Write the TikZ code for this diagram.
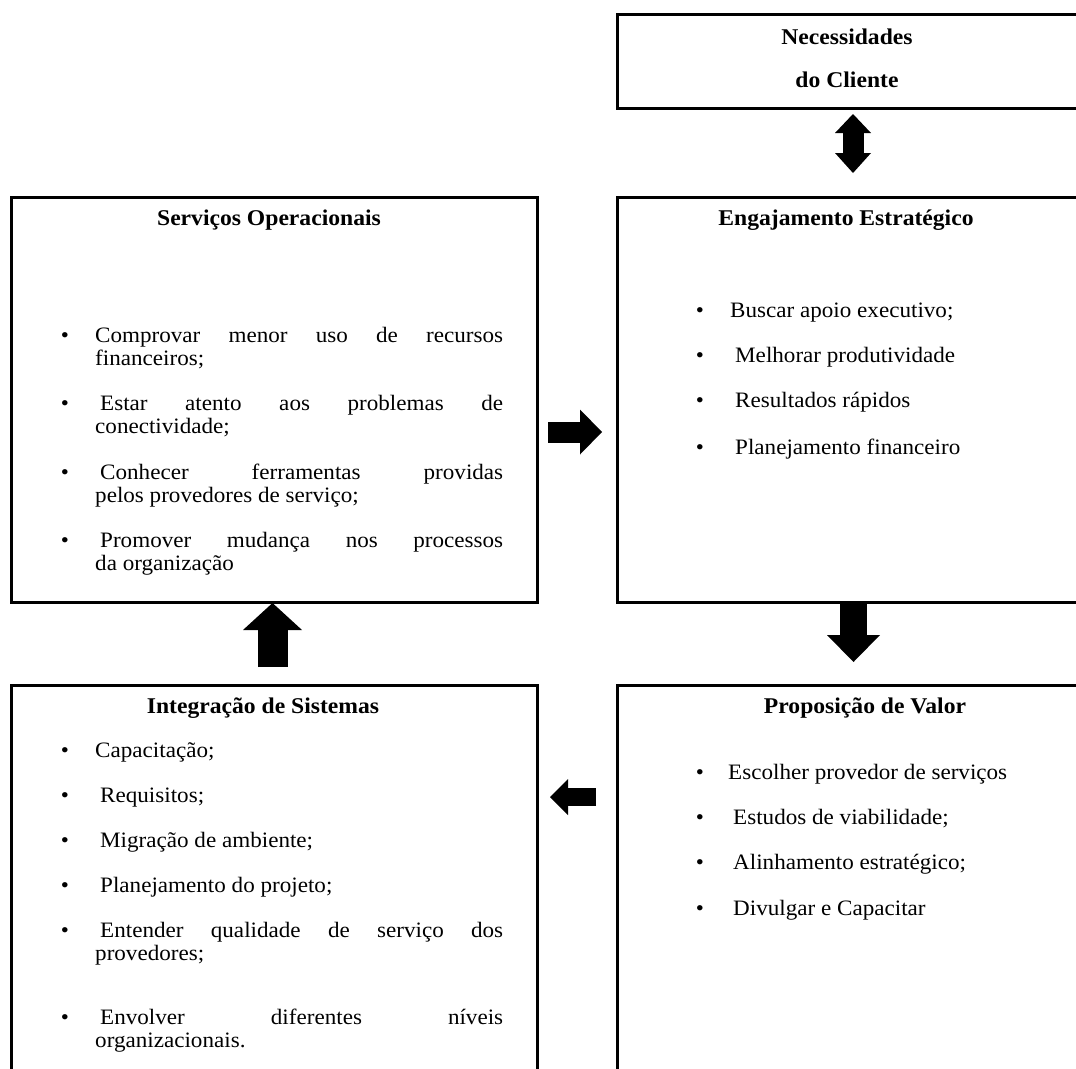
\documentclass[tikz,border=0pt]{standalone}
\usepackage{fontspec}
\setmainfont[FakeStretch=1.05]{Liberation Serif}
\usetikzlibrary{arrows.meta}
\newcommand{\jline}[2]{\makebox[#1][s]{#2}}
\begin{document}
\begin{tikzpicture}[x=1pt,y=-1pt,
  box/.style={draw, line width=3pt, anchor=north west, inner sep=0pt, outer sep=0pt},
  txt/.style={anchor=base west, inner sep=0pt, font=\fontsize{22}{25}\selectfont},
  ttl/.style={anchor=base, inner sep=0pt, font=\fontsize{22.5}{26}\selectfont\bfseries},
  bul/.style={anchor=base, inner sep=0pt, font=\fontsize{22}{25}\selectfont},
  blockarrow/.style={line cap=butt, line width=#1}
]
\useasboundingbox (0,0) rectangle (1076,1068);

% boxes
\node[box, minimum width=470pt, minimum height=94pt]  (need) at (617,14)  {};
\node[box, minimum width=470pt, minimum height=405pt] (eng)  at (617,197) {};
\node[box, minimum width=526pt, minimum height=405pt] (serv) at (11,197)  {};
\node[box, minimum width=526pt, minimum height=400pt] (intg) at (11,685)  {};
\node[box, minimum width=470pt, minimum height=400pt] (prop) at (617,685) {};

% arrow end points
\coordinate (dA) at (853,114);  \coordinate (dB) at (853,173);
\coordinate (rA) at (548,432);  \coordinate (rB) at (602,432);
\coordinate (vA) at (853.5,602); \coordinate (vB) at (853.5,662);
\coordinate (uA) at (272.5,667); \coordinate (uB) at (272.5,603);
\coordinate (lA) at (596,797);  \coordinate (lB) at (550,797);

% block arrows
\draw[blockarrow=21pt, {Triangle[length=19pt,width=36pt,line width=0pt]}-{Triangle[length=20pt,width=36pt,line width=0pt]}] (dA) -- (dB);
\draw[blockarrow=21pt, -{Triangle[length=22pt,width=45pt,line width=0pt]}] (rA) -- (rB);
\draw[blockarrow=27pt, -{Triangle[length=27pt,width=53pt,line width=0pt]}] (vA) -- (vB);
\draw[blockarrow=30pt, -{Triangle[length=27pt,width=59pt,line width=0pt]}] (uA) -- (uB);
\draw[blockarrow=18pt, -{Triangle[length=18pt,width=36pt,line width=0pt]}] (lA) -- (lB);

% Necessidades do Cliente
\node[ttl] (needt1) at (847,44) {Necessidades};
\node[ttl] (needt2) at (847,87) {do Cliente};

% Servicos Operacionais
\node[ttl] (servt) at (269,225) {Serviços Operacionais};
\node[bul] (sb1) at (65,342) {•};
\node[txt] (s1a) at (95,342)  {\jline{408pt}{Comprovar menor uso de recursos}};
\node[txt] (s1b) at (95,365)  {financeiros;};
\node[bul] (sb2) at (65,410) {•};
\node[txt] (s2a) at (100,410) {\jline{403pt}{Estar atento aos problemas de}};
\node[txt] (s2b) at (95,433)  {conectividade;};
\node[bul] (sb3) at (65,479) {•};
\node[txt] (s3a) at (100,479) {\jline{403pt}{Conhecer ferramentas providas}};
\node[txt] (s3b) at (95,502)  {pelos provedores de serviço;};
\node[bul] (sb4) at (65,547) {•};
\node[txt] (s4a) at (100,547) {\jline{403pt}{Promover mudança nos processos}};
\node[txt] (s4b) at (95,570)  {da organização};

% Engajamento Estrategico
\node[ttl] (engt) at (846,225) {Engajamento Estratégico};
\node[bul] (eb1) at (700,317) {•};
\node[txt] (e1) at (730,317) {Buscar apoio executivo;};
\node[bul] (eb2) at (700,362) {•};
\node[txt] (e2) at (735,362) {Melhorar produtividade};
\node[bul] (eb3) at (700,407) {•};
\node[txt] (e3) at (735,407) {Resultados rápidos};
\node[bul] (eb4) at (700,454) {•};
\node[txt] (e4) at (735,454) {Planejamento financeiro};

% Integracao de Sistemas
\node[ttl] (intt) at (263,713) {Integração de Sistemas};
\node[bul] (ib1) at (65,757) {•};
\node[txt] (i1) at (95,757) {Capacitação;};
\node[bul] (ib2) at (65,802) {•};
\node[txt] (i2) at (100,802) {Requisitos;};
\node[bul] (ib3) at (65,847) {•};
\node[txt] (i3) at (100,847) {Migração de ambiente;};
\node[bul] (ib4) at (65,892) {•};
\node[txt] (i4) at (100,892) {Planejamento do projeto;};
\node[bul] (ib5) at (65,937) {•};
\node[txt] (i5a) at (100,937) {\jline{403pt}{Entender qualidade de serviço dos}};
\node[txt] (i5b) at (95,960)  {provedores;};
\node[bul] (ib6) at (65,1024) {•};
\node[txt] (i6a) at (100,1024) {\jline{403pt}{Envolver diferentes níveis}};
\node[txt] (i6b) at (95,1047)  {organizacionais.};

% Proposicao de Valor
\node[ttl] (propt) at (865,713) {Proposição de Valor};
\node[bul] (pb1) at (700,779) {•};
\node[txt] (p1) at (728,779) {Escolher provedor de serviços};
\node[bul] (pb2) at (700,824) {•};
\node[txt] (p2) at (733,824) {Estudos de viabilidade;};
\node[bul] (pb3) at (700,869) {•};
\node[txt] (p3) at (733,869) {Alinhamento estratégico;};
\node[bul] (pb4) at (700,915) {•};
\node[txt] (p4) at (733,915) {Divulgar e Capacitar};
\end{tikzpicture}
\end{document}
